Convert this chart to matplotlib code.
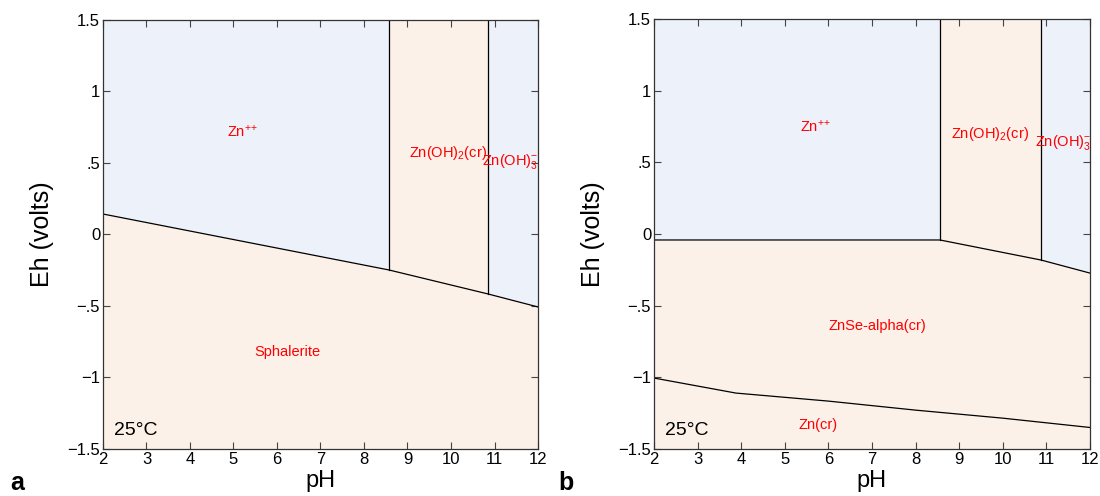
"""
Eh-pH diagrams for Zn at 25 C: (a) Zn-S system, (b) Zn-Se system.
"""
import numpy as np
import matplotlib.pyplot as plt

plt.rcParams['font.family'] = ['Liberation Sans', 'DejaVu Sans']
plt.rcParams['mathtext.default'] = 'regular'

BLUE = '#edf1f9'
PEACH = '#fcf1e9'

PH_MIN, PH_MAX = 2, 12
EH_MIN, EH_MAX = -1.5, 1.5

# --- panel a: sulfide boundary (aqueous / solid above, sphalerite below) ---
a_bound_ph = [2, 8.57, 10.85, 12]
a_bound_eh = [0.143, -0.248, -0.416, -0.507]
a_vert_ph = [8.57, 10.85]          # Zn++ | Zn(OH)2(cr) | Zn(OH)3-
a_upper_fills = [BLUE, PEACH, BLUE]
a_labels = ['Zn$^{{+}{+}}$', 'Zn(OH)$_2$(cr)', 'Zn(OH)$_3^{-}$', 'Sphalerite']
a_label_ph = [5.2, 9.93, 11.35, 6.25]
a_label_eh = [0.72, 0.57, 0.51, -0.82]

# --- panel b: selenide system ---
b_bound_ph = [2, 8.56, 10.88, 12]
b_bound_eh = [-0.042, -0.042, -0.182, -0.273]
b_vert_ph = [8.56, 10.88]
b_upper_fills = [BLUE, PEACH, BLUE]
b_low_ph = [2, 3.88, 6, 8, 10, 12]
b_low_eh = [-1.005, -1.11, -1.166, -1.229, -1.285, -1.35]
b_labels = ['Zn$^{{+}{+}}$', 'Zn(OH)$_2$(cr)', 'Zn(OH)$_3^{-}$', 'ZnSe-alpha(cr)', 'Zn(cr)']
b_label_ph = [5.71, 9.7, 11.38, 7.13, 5.76]
b_label_eh = [0.75, 0.70, 0.64, -0.64, -1.33]


def draw_panel(ax, bph, beh, vph, fills, lph=None, leh=None):
    bph = np.asarray(bph, dtype=float)
    beh = np.asarray(beh, dtype=float)
    edges = [PH_MIN] + list(vph) + [PH_MAX]
    # fill above boundary, one column per field
    for i in range(len(edges) - 1):
        xs = np.linspace(edges[i], edges[i + 1], 50)
        ys = np.interp(xs, bph, beh)
        ax.fill_between(xs, ys, EH_MAX, color=fills[i], lw=0)
    # fill below boundary
    ax.fill_between(bph, EH_MIN, beh, color=PEACH, lw=0)
    ax.plot(bph, beh, color='black', lw=0.9)
    for v in vph:
        ax.plot([v, v], [np.interp(v, bph, beh), EH_MAX], color='black', lw=0.9)
    if lph is not None:
        ax.plot(lph, leh, color='black', lw=0.9)

    ax.set_xlim(PH_MIN, PH_MAX)
    ax.set_ylim(EH_MIN, EH_MAX)
    ax.set_xticks(range(2, 13))
    ax.set_yticks([-1.5, -1, -0.5, 0, 0.5, 1, 1.5])
    ax.set_yticklabels(['\u22121.5', '\u22121', '\u2212.5', '0', '.5', '1', '1.5'])
    ax.tick_params(direction='in', top=True, right=True, length=5, width=0.8,
                   labelsize=12, pad=2, color='#444444')
    for s in ax.spines.values():
        s.set_color('#333333')
        s.set_linewidth(0.9)
    ax.set_xlabel('pH', fontsize=17, labelpad=2)
    ax.set_ylabel('Eh (volts)', fontsize=18, labelpad=10)
    ax.text(2.25, -1.37, '25\u00b0C', fontsize=14, ha='left', va='center')


fig = plt.figure(figsize=(11, 4.96), dpi=100)
ax_a = fig.add_axes([0.0936, 0.0948, 0.3955, 0.865])
ax_b = fig.add_axes([0.5945, 0.0948, 0.3964, 0.867])

draw_panel(ax_a, a_bound_ph, a_bound_eh, a_vert_ph, a_upper_fills)
for t, x, y in zip(a_labels, a_label_ph, a_label_eh):
    ax_a.text(x, y, t, color='red', fontsize=10.5, ha='center', va='center')

draw_panel(ax_b, b_bound_ph, b_bound_eh, b_vert_ph, b_upper_fills, b_low_ph, b_low_eh)
for t, x, y in zip(b_labels, b_label_ph, b_label_eh):
    ax_b.text(x, y, t, color='red', fontsize=10.5, ha='center', va='center')

fig.text(0.009, 0.012, 'a', fontsize=18, fontweight='bold')
fig.text(0.508, 0.012, 'b', fontsize=18, fontweight='bold')

fig.savefig('out.png', dpi=100)
